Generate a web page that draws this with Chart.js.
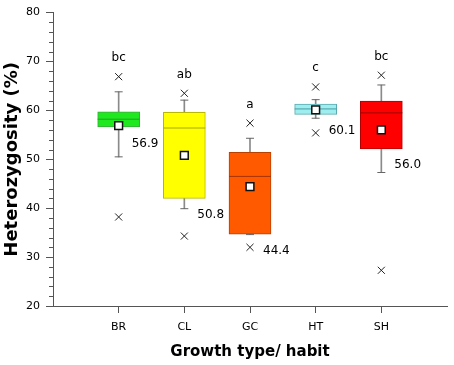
<!DOCTYPE html>
<html>
<head>
<meta charset="utf-8">
<script src="https://cdn.jsdelivr.net/npm/chart.js@4"></script>
<style>
  html, body { margin: 0; padding: 0; background: #fff; }
  #wrap { width: 454px; height: 365px; }
</style>
</head>
<body>
<div id="wrap"><canvas id="boxChart"></canvas></div>
<script>
// values
const categories = ['BR', 'CL', 'GC', 'HT', 'SH'];
const q1 = [56.6, 42.0, 34.7, 59.2, 52.1];
const q3 = [59.7, 59.6, 51.4, 61.3, 61.9];
const medians = [58.2, 56.4, 46.5, 60.3, 59.5];
const whiskerLow = [50.5, 39.9, 34.6, 58.4, 47.3];
const whiskerHigh = [63.8, 62.1, 54.3, 62.2, 65.2];
const means = [56.9, 50.8, 44.4, 60.1, 56.0];
const outlierHigh = [66.9, 63.5, 57.4, 64.8, 67.2];
const outlierLow = [38.2, 34.3, 32.0, 55.4, 27.3];
const letters = ['bc', 'ab', 'a', 'c', 'bc'];
const letterY = [70.7, 67.2, 61.1, 68.7, 70.9];
const meanLabelY = [53.2, 38.6, 31.3, 55.9, 48.8];

const fills = ['#1ee81e', '#ffff00', '#ff5a00', '#9eeef0', '#ff0000'];
const edges = ['#3caa3c', '#b8b800', '#b84000', '#5aaab0', '#b00000'];
const medianCols = ['#2a9a2a', '#a8a800', '#a83300', '#4a9aa0', '#a00000'];

const FONT = 'DejaVu Sans';
const xs = categories.map((c, i) => i + 1);
const pts = arr => arr.map((v, i) => ({ x: xs[i], y: v }));

// minor y ticks + letters + mean labels
const extras = {
  id: 'extras',
  afterDraw(chart) {
    const ctx = chart.ctx;
    const x = chart.scales.x, y = chart.scales.y;
    ctx.save();
    ctx.strokeStyle = '#555';
    ctx.lineWidth = 1;
    for (let v = 22; v < 80; v += 2) {
      if (v % 10 === 0) continue;
      const py = Math.round(y.getPixelForValue(v)) + 0.5;
      ctx.beginPath();
      ctx.moveTo(x.left - 4, py);
      ctx.lineTo(x.left, py);
      ctx.stroke();
    }
    ctx.fillStyle = '#000';
    ctx.font = '12px "' + FONT + '"';
    ctx.textBaseline = 'middle';
    ctx.textAlign = 'center';
    letters.forEach((t, i) => {
      ctx.fillText(t, x.getPixelForValue(xs[i]), y.getPixelForValue(letterY[i]));
    });
    ctx.textAlign = 'left';
    means.forEach((m, i) => {
      ctx.fillText(m.toFixed(1), x.getPixelForValue(xs[i]) + 13, y.getPixelForValue(meanLabelY[i]));
    });
    ctx.restore();
  }
};

new Chart(document.getElementById('boxChart'), {
  type: 'bar',
  data: {
    datasets: [
      {
        label: 'whisker',
        data: xs.map((x, i) => ({ x: x, y: [whiskerLow[i], whiskerHigh[i]] })),
        backgroundColor: '#8a8a8a',
        barThickness: 1,
        grouped: false,
        order: 6
      },
      {
        label: 'box',
        data: xs.map((x, i) => ({ x: x, y: [q1[i], q3[i]] })),
        backgroundColor: fills,
        borderColor: edges,
        borderWidth: 1,
        borderSkipped: false,
        barThickness: 42,
        grouped: false,
        order: 5
      },
      {
        type: 'scatter',
        label: 'caps',
        data: pts(whiskerLow).concat(pts(whiskerHigh)),
        pointStyle: 'line',
        pointRadius: 4,
        borderColor: '#666',
        borderWidth: 1,
        order: 4
      },
      {
        type: 'scatter',
        label: 'median',
        data: pts(medians),
        pointStyle: 'line',
        pointRadius: 21,
        pointBorderColor: medianCols,
        pointBorderWidth: 1,
        order: 3
      },
      {
        type: 'scatter',
        label: 'mean',
        data: pts(means),
        pointStyle: 'rect',
        pointRadius: 5.5,
        pointBackgroundColor: '#fff',
        pointBorderColor: '#111',
        pointBorderWidth: 1.5,
        order: 2
      },
      {
        type: 'scatter',
        label: 'outliers',
        data: pts(outlierHigh).concat(pts(outlierLow)),
        pointStyle: 'crossRot',
        pointRadius: 5,
        pointBorderColor: '#222',
        pointBorderWidth: 1,
        order: 1
      }
    ]
  },
  options: {
    responsive: true,
    maintainAspectRatio: false,
    animation: false,
    layout: { autoPadding: false, padding: { top: 9, right: 7, left: 0, bottom: 0 } },
    plugins: { legend: { display: false }, tooltip: { enabled: false } },
    scales: {
      x: {
        type: 'linear',
        min: 0,
        max: 6,
        offset: false,
        afterBuildTicks: s => { s.ticks = xs.map(v => ({ value: v })); },
        afterFit: s => { s.height = 59; s.paddingLeft = 0; s.paddingRight = 0; },
        ticks: {
          callback: v => categories[v - 1] || '',
          color: '#000',
          font: { family: FONT, size: 11 },
          padding: 8,
          autoSkip: false,
          maxRotation: 0
        },
        grid: { drawOnChartArea: false, offset: false, tickLength: 7, color: '#555' },
        border: { color: '#555', width: 1 },
        title: {
          display: true,
          text: 'Growth type/ habit',
          color: '#000',
          font: { family: FONT, size: 15, weight: 'bold' },
          padding: { top: 0, bottom: 4 }
        }
      },
      y: {
        min: 20,
        max: 80,
        afterFit: s => { s.width = 53; },
        ticks: {
          stepSize: 2,
          autoSkip: false,
          callback: v => (v % 10 === 0 ? v : ''),
          color: '#000',
          font: { family: FONT, size: 11 },
          padding: 6
        },
        grid: {
          drawOnChartArea: false,
          tickLength: 7,
          color: '#555',
          tickColor: c => (c.tick && c.tick.value % 10 === 0 ? '#555' : 'rgba(0,0,0,0)')
        },
        border: { color: '#555', width: 1 },
        title: {
          display: true,
          text: 'Heterozygosity (%)',
          color: '#000',
          font: { family: FONT, size: 18, weight: 'bold' },
          padding: { top: 2, bottom: 0 }
        }
      }
    }
  },
  plugins: [extras]
});
</script>
</body>
</html>
